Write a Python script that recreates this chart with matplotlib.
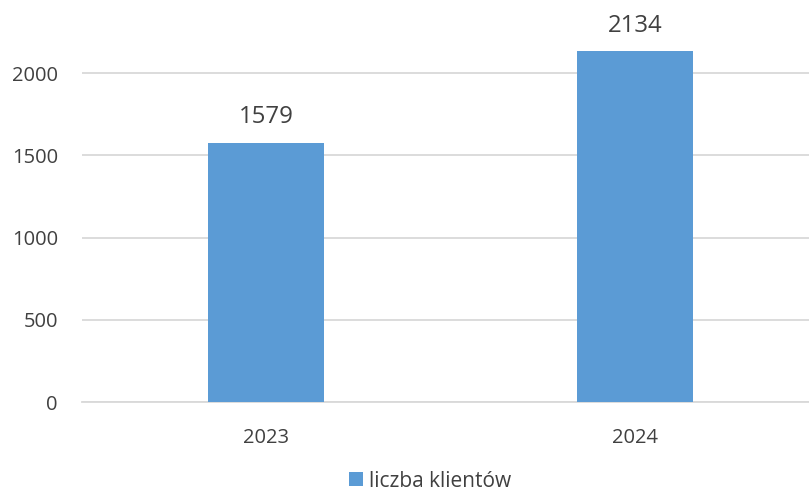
import matplotlib
matplotlib.use("Agg")
import matplotlib.pyplot as plt
from matplotlib.patches import Patch

categories = ["2023", "2024"]
values = [1579, 2134]
series_name = "liczba klientów"
yticks = [0, 500, 1000, 1500, 2000]

plt.rcParams['font.family'] = ['Open Sans', 'DejaVu Sans']

W, H = 809, 490
fig = plt.figure(figsize=(W/100, H/100), dpi=100)
ax = fig.add_axes([81.5/W, (H-402)/H, 738/W, (402-7.6)/H])

bar_color = "#5B9BD5"
x = list(range(len(categories)))
bars = ax.bar(x, values, width=0.313, color=bar_color, zorder=3)
ax.set_xlim(-0.5, 1.5)
ax.set_ylim(0, 2400)
ax.set_yticks(yticks)
ax.set_xticks(x)
ax.set_xticklabels(categories)
ax.grid(axis='y', color="#D9D9D9", linewidth=1.3, zorder=0)
ax.set_axisbelow(True)
for s in ["top", "right", "left"]:
    ax.spines[s].set_visible(False)
ax.spines["bottom"].set_color("#D9D9D9")
ax.spines["bottom"].set_linewidth(1.3)
ax.tick_params(axis='y', length=0, pad=17, labelsize=14.5, labelcolor="#404040")
ax.tick_params(axis='x', length=0, pad=18.5, labelsize=14.5, labelcolor="#404040")

for b, v in zip(bars, values):
    ax.annotate(str(v), (b.get_x() + b.get_width()/2, v), xytext=(0, 13.7),
                textcoords="offset points", ha="center", va="baseline",
                fontsize=17.3, color="#404040")

handle = Patch(facecolor=bar_color, label=series_name)
fig.legend(handles=[handle], loc="center", bbox_to_anchor=(430/W, 1 - 481/H),
           frameon=False, fontsize=15, handlelength=0.68, handleheight=0.68,
           handletextpad=0.3, labelcolor="#404040", borderpad=0)

fig.savefig("out.png", dpi=100)
